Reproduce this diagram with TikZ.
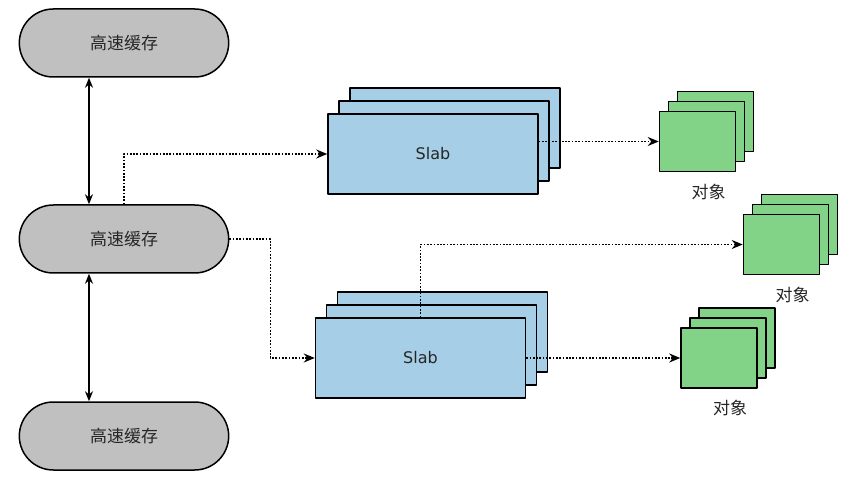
\documentclass[tikz,border=0pt]{standalone}
\usepackage{fontspec}
\setmainfont{DejaVu Sans}
\newfontfamily\cjk{Noto Sans CJK SC}
\usetikzlibrary{arrows.meta,shapes.misc}
\definecolor{cachegray}{RGB}{192,192,192}
\definecolor{slabblue}{RGB}{166,206,230}
\definecolor{objgreen}{RGB}{130,210,135}
\begin{document}
\begin{tikzpicture}[x=1pt,y=-1pt,line join=round,line width=1.5pt,font=\fontsize{16}{19}\selectfont,
	cache/.style={rounded rectangle,draw,fill=cachegray,minimum width=216pt,minimum height=68pt,text=black!85,font=\cjk\fontsize{17}{20}\selectfont},
	slabbox/.style={rectangle,draw,fill=slabblue,minimum width=210pt,minimum height=80pt,text=black!85},
	objbox/.style={rectangle,draw,fill=objgreen,minimum width=76pt,minimum height=60pt},
	objlabel/.style={text=black!85,font=\cjk\fontsize{17}{20}\selectfont},
	biarrow/.style={{Stealth[length=10pt,width=8pt]}-{Stealth[length=10pt,width=8pt]}},
	dotarrow/.style={line width=1.7pt,dash pattern=on 1.7pt off 1.6pt,-{Stealth[length=11pt,width=9pt]}}]
		\useasboundingbox (0,0) rectangle (851,478);
		% caches
		\node[cache] (cache1) at (124,43) {高速缓存};
		\node[cache] (cache2) at (124,239) {高速缓存};
		\node[cache] (cache3) at (124,436) {高速缓存};
		% slabs, back to front
		\foreach \n/\x/\y in {1/433/154,2/420.5/358}{
			\node[slabbox] (slab\n c) at (\x+22,\y-26) {};
			\node[slabbox] (slab\n b) at (\x+11,\y-13) {};
			\node[slabbox] (slab\n a) at (\x,\y) {Slab};
		}
		% objects
		\foreach \n/\x/\y in {1/697.5/141.5,2/781.5/244.5,3/719/358}{
			\node[objbox] (obj\n c) at (\x+18,\y-20) {};
			\node[objbox] (obj\n b) at (\x+9,\y-10) {};
			\node[objbox] (obj\n a) at (\x,\y) {};
			\node[objlabel] (lbl\n) at (\x+11,\y+50) {对象};
		}
		\draw[biarrow] ([xshift=-35pt]cache1.south) -- ([xshift=-35pt]cache2.north);
		\draw[biarrow] ([xshift=-35pt]cache2.south) -- ([xshift=-35pt]cache3.north);
		\draw[dotarrow] (cache2.north) |- (slab1a.west);
		\draw[dotarrow] (cache2.east) -- ++(41,0) |- (slab2a.west);
		\draw[dotarrow] (slab1a.east |- obj1a.west) -- (obj1a.west);
		\draw[dotarrow] (slab2a.north) |- (obj2a.west);
		\draw[dotarrow] (slab2a.east) -- (obj3a.west);
\end{tikzpicture}
\end{document}
